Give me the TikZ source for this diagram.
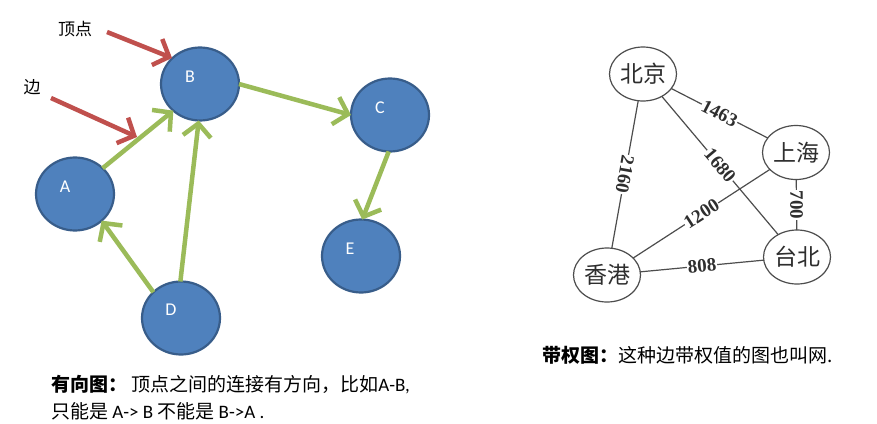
\documentclass[tikz,border=0pt]{standalone}
\usepackage{fontspec}
\setmainfont{Liberation Serif}
\newfontfamily\cjk{Noto Sans CJK SC}
\newfontfamily\carl{Carlito}
\usetikzlibrary{arrows.meta,shapes.geometric}
\definecolor{vfill}{HTML}{4F81BD}
\definecolor{vborder}{HTML}{385D8A}
\definecolor{egreen}{HTML}{9BBB59}
\definecolor{ered}{HTML}{C0504D}
\definecolor{cgray}{HTML}{4D4D4D}
\definecolor{ctext}{HTML}{2E2E2E}
\begin{document}
\begin{tikzpicture}[x=1pt,y=-1pt,
  vtx/.style={ellipse, draw=vborder, fill=vfill, line width=2.2pt,
    minimum width=78pt, minimum height=73pt, inner sep=0pt, outer sep=0pt},
  vlab/.style={text=white, font=\carl\fontsize{18}{18}\selectfont, inner sep=0pt},
  gedge/.style={draw=egreen, line width=4.5pt,
    -{Straight Barb[length=13pt,width=28pt]}},
  redge/.style={draw=ered, line width=4.5pt,
    -{Straight Barb[length=13pt,width=28pt]}},
  note/.style={font=\cjk\fontsize{17}{17}\selectfont, inner sep=0pt},
  city/.style={ellipse, draw=cgray, line width=1.2pt, fill=white,
    minimum width=67pt, minimum height=54pt, inner sep=0pt, outer sep=0pt,
    font=\cjk\fontsize{23}{23}\selectfont, text=ctext},
  cline/.style={draw=cgray, line width=1.2pt},
  wt/.style={fill=white, inner sep=0.8pt, text=ctext,
    font=\bfseries\fontsize{19}{19}\selectfont},
  captxt/.style={anchor=west, inner sep=0pt, font=\cjk\fontsize{19}{19}\selectfont}
]
\useasboundingbox (0,0) rectangle (877,423);
\fill[white] (0,0) rectangle (877,423);

% ---- directed graph ----
\node[vtx, label={[vlab, xshift=-10pt, yshift=7pt]center:A}] (A) at (75,194) {};
\node[vtx, label={[vlab, xshift=-10pt, yshift=7pt]center:B}] (B) at (200,84) {};
\node[vtx, label={[vlab, xshift=-10pt, yshift=7pt]center:C}] (C) at (390,115) {};
\node[vtx, label={[vlab, xshift=-11pt, yshift=7pt]center:E}] (E) at (361,256) {};
\node[vtx, label={[vlab, xshift=-10pt, yshift=8pt]center:D}] (D) at (181,318) {};

\draw[gedge] (A.43) -- (B.225);
\draw[gedge] (D.91) -- (B.268);
\draw[gedge] (D.137) -- (A.315);
\draw[gedge] (B.0) -- (C.180);
\draw[gedge] (C.268) -- (E.88);

\coordinate (r1s) at (107,32);
\coordinate (r1e) at (172,58);
\coordinate (r2s) at (51,98);
\coordinate (r2e) at (137,137);
\draw[redge] (r1s) -- (r1e);
\draw[redge] (r2s) -- (r2e);

\node[note] (ding) at (75,29) {顶点};
\node[note] (bian) at (32,87) {边};

% ---- weighted graph ----
\node[city] (bj) at (643,74) {北京};
\node[city] (sh) at (796,152.5) {上海};
\node[city] (tb) at (797,257) {台北};
\node[city] (hk) at (607,275) {香港};

\draw[cline] (bj) -- node[wt, sloped] {1463} (sh);
\draw[cline] (bj) -- node[wt, rotate=-100] {2160} (hk);
\draw[cline] (bj) -- node[wt, sloped] {1680} (tb);
\draw[cline] (sh) -- node[wt, rotate=-90] {700} (tb);
\draw[cline] (sh) -- node[wt, sloped] {1200} (hk);
\draw[cline] (hk) -- node[wt, sloped] {808} (tb);

% ---- captions ----
\node[captxt] (t1) at (51,385) {{\bfseries 有向图：} 顶点之间的连接有方向，比如{\carl A-B,}};
\node[captxt] (t2) at (51,411) {只能是 {\carl A-> B} 不能是 {\carl B->A .}};
\node[captxt] (t3) at (542,355) {{\bfseries 带权图：}这种边带权值的图也叫网.};
\end{tikzpicture}
\end{document}
